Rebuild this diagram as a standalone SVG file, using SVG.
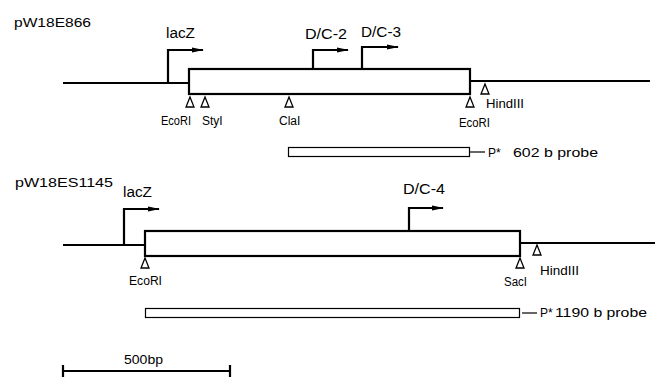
<svg xmlns="http://www.w3.org/2000/svg" width="656" height="378" viewBox="0 0 656 378">
<defs>
<marker id="ah" viewBox="0 0 12 6" refX="11" refY="3" markerWidth="12" markerHeight="6" markerUnits="userSpaceOnUse" orient="auto">
<path d="M0,0.5 L12,3 L0,5.5 Z" fill="#000"/>
</marker>
</defs>
<style>
.dna{stroke:#000;stroke-width:2.2;fill:none}
.box{stroke:#000;stroke-width:2.2;fill:#fff}
.prom{stroke:#000;stroke-width:2.2;fill:none}
.probe{stroke:#000;stroke-width:1.2;fill:#fff}
.site{stroke:#000;stroke-width:1.3;fill:#fff}
.t{font-family:"Liberation Sans",Arial,sans-serif;fill:#000}
.lbl{font-size:13px}
.big{font-size:14px}
.sm{font-size:12px}
</style>
<rect width="656" height="378" fill="#fff"/>
<g id="construct1">
<text class="t lbl" x="14" y="27" textLength="77" lengthAdjust="spacingAndGlyphs">pW18E866</text>
<line class="dna" x1="63" y1="83" x2="189" y2="83"/>
<rect class="box" x="189" y="69" width="281" height="25"/>
<line class="dna" x1="470" y1="81" x2="650" y2="81"/>
</g>
<g id="promoters1">
<polyline class="prom" points="168,83 168,50 203,50" marker-end="url(#ah)"/>
<text class="t big" x="166" y="38" textLength="29" lengthAdjust="spacingAndGlyphs">lacZ</text>
<polyline class="prom" points="313,69 313,50 348,50" marker-end="url(#ah)"/>
<text class="t big" x="305" y="39" textLength="42" lengthAdjust="spacingAndGlyphs">D/C-2</text>
<polyline class="prom" points="362,69 362,47 398,47" marker-end="url(#ah)"/>
<text class="t big" x="361" y="37" textLength="40" lengthAdjust="spacingAndGlyphs">D/C-3</text>
</g>
<g id="sites1">
<path class="site" d="M190,97 L186,107 L194,107 Z"/>
<path class="site" d="M205,97 L201,107 L209,107 Z"/>
<path class="site" d="M289,97 L285,107 L293,107 Z"/>
<path class="site" d="M470,97 L466,107 L474,107 Z"/>
<path class="site" d="M485,84 L481,94 L489,94 Z"/>
<text class="t sm" x="161" y="125" textLength="30" lengthAdjust="spacingAndGlyphs">EcoRI</text>
<text class="t sm" x="202" y="125">StyI</text>
<text class="t sm" x="279" y="125">ClaI</text>
<text class="t sm" x="459" y="127" textLength="31" lengthAdjust="spacingAndGlyphs">EcoRI</text>
<text class="t sm" x="486" y="108" textLength="38" lengthAdjust="spacingAndGlyphs">HindIII</text>
</g>
<g id="probe1">
<rect class="probe" x="288.5" y="147.5" width="181" height="9"/>
<line class="probe" x1="470" y1="152" x2="485" y2="152"/>
<text class="t sm" x="488" y="157">P*</text>
<text class="t sm" x="513" y="157" textLength="85" lengthAdjust="spacingAndGlyphs">602 b  probe</text>
</g>
<g id="construct2">
<text class="t lbl" x="15" y="187" textLength="98" lengthAdjust="spacingAndGlyphs">pW18ES1145</text>
<line class="dna" x1="63" y1="245" x2="145" y2="245"/>
<rect class="box" x="145" y="231" width="375" height="25"/>
<line class="dna" x1="520" y1="243" x2="655" y2="243"/>
</g>
<g id="promoters2">
<polyline class="prom" points="124,245 124,209 159,209" marker-end="url(#ah)"/>
<text class="t big" x="123" y="197" textLength="29" lengthAdjust="spacingAndGlyphs">lacZ</text>
<polyline class="prom" points="409,231 409,208 443,208" marker-end="url(#ah)"/>
<text class="t big" x="403" y="194" textLength="42" lengthAdjust="spacingAndGlyphs">D/C-4</text>
</g>
<g id="sites2">
<path class="site" d="M145,258 L141,268 L149,268 Z"/>
<path class="site" d="M520,258 L516,268 L524,268 Z"/>
<path class="site" d="M537,245 L533,255 L541,255 Z"/>
<text class="t sm" x="129" y="285" textLength="33" lengthAdjust="spacingAndGlyphs">EcoRI</text>
<text class="t sm" x="504" y="286" textLength="23" lengthAdjust="spacingAndGlyphs">SacI</text>
<text class="t sm" x="540" y="275" textLength="39" lengthAdjust="spacingAndGlyphs">HindIII</text>
</g>
<g id="probe2">
<rect class="probe" x="145.5" y="308.5" width="374" height="9"/>
<line class="probe" x1="522" y1="313" x2="537" y2="313"/>
<text class="t sm" x="540" y="317">P*</text>
<text class="t sm" x="555" y="317" textLength="92" lengthAdjust="spacingAndGlyphs">1190 b  probe</text>
</g>
<g id="scalebar">
<line class="dna" x1="63" y1="371" x2="230" y2="371" stroke-width="1.6"/>
<line class="dna" x1="63" y1="365" x2="63" y2="377" stroke-width="1.2"/>
<line class="dna" x1="230" y1="365" x2="230" y2="377" stroke-width="1.2"/>
<text class="t sm" x="124" y="364" textLength="39" lengthAdjust="spacingAndGlyphs">500bp</text>
</g>
</svg>
